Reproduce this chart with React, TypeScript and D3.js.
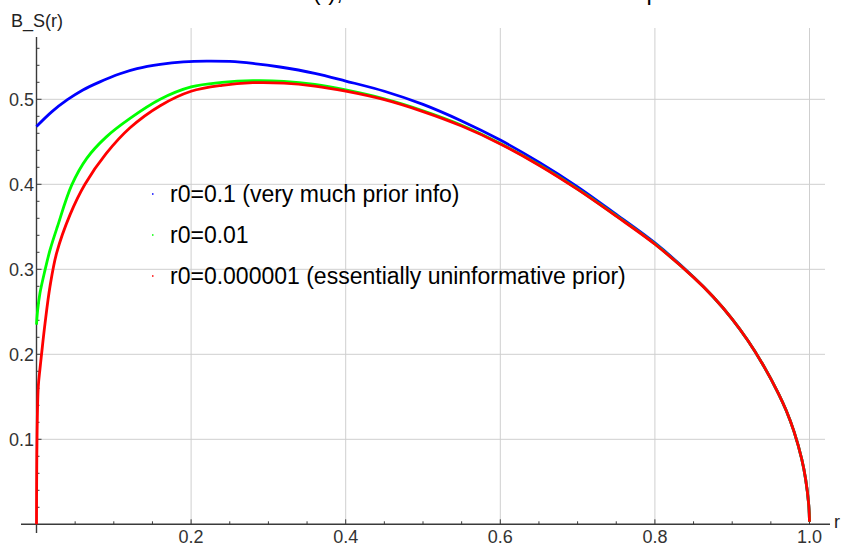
import React from "react";
import * as d3 from "d3";

// ---- data ----
const blueR = [0, 0.02, 0.04, 0.06, 0.082, 0.108, 0.13, 0.16, 0.19, 0.22, 0.25, 0.28, 0.315, 0.36, 0.4, 0.45, 0.5, 0.55, 0.6, 0.65, 0.7, 0.75, 0.8, 0.85, 0.875, 0.9, 0.92, 0.94, 0.96, 0.97, 0.98, 0.99, 0.995, 0.999, 1.0];
const blueV = [0.468, 0.4855, 0.4995, 0.511, 0.5205, 0.53, 0.536, 0.541, 0.544, 0.545, 0.5445, 0.5422, 0.538, 0.5305, 0.5215, 0.5095, 0.494, 0.4745, 0.452, 0.426, 0.397, 0.3645, 0.331, 0.291, 0.268, 0.2415, 0.2165, 0.1875, 0.1535, 0.1335, 0.109, 0.0765, 0.053, 0.023, 0.003];

const greenR = [0, 0.0015, 0.0045, 0.011, 0.0175, 0.027, 0.0455, 0.065, 0.09, 0.121, 0.16, 0.2, 0.24, 0.28, 0.32, 0.36, 0.4, 0.45, 0.5, 0.55, 0.6, 0.65, 0.7, 0.75, 0.8, 0.85, 0.875, 0.9, 0.92, 0.94, 0.96, 0.97, 0.98, 0.99, 0.995, 0.999, 1.0];
const greenV = [0.235, 0.252, 0.272, 0.299, 0.3227, 0.35, 0.399, 0.4305, 0.4555, 0.4775, 0.5, 0.5145, 0.5198, 0.522, 0.5212, 0.5175, 0.511, 0.5005, 0.4865, 0.4695, 0.448, 0.423, 0.3945, 0.363, 0.3298, 0.2906, 0.268, 0.2415, 0.2165, 0.1875, 0.1535, 0.1335, 0.109, 0.0765, 0.053, 0.023, 0.003];

const redR = [0, 0.0002, 0.0008, 0.0023, 0.0045, 0.0067, 0.011, 0.0175, 0.026, 0.0433, 0.0627, 0.09, 0.121, 0.16, 0.2, 0.24, 0.28, 0.32, 0.36, 0.4, 0.45, 0.5, 0.55, 0.6, 0.65, 0.7, 0.75, 0.8, 0.85, 0.875, 0.9, 0.92, 0.94, 0.96, 0.97, 0.98, 0.99, 0.995, 0.999, 1.0];
const redV = [0.0, 0.05, 0.11, 0.162, 0.183, 0.2015, 0.236, 0.28, 0.319, 0.364, 0.4, 0.436, 0.4665, 0.4925, 0.5095, 0.5165, 0.5195, 0.519, 0.5155, 0.5095, 0.4995, 0.4855, 0.4685, 0.4475, 0.4225, 0.394, 0.3625, 0.3295, 0.2905, 0.268, 0.2415, 0.2165, 0.1875, 0.1535, 0.1335, 0.109, 0.0765, 0.053, 0.023, 0.003];

const seriesLabels = [
  "r0=0.1 (very much prior info)",
  "r0=0.01",
  "r0=0.000001 (essentially uninformative prior)",
];
const seriesColors = ["#0000ff", "#00ff00", "#ff0000"];

const xTickLabels = ["0.2", "0.4", "0.6", "0.8", "1.0"];
const yTickLabels = ["0.1", "0.2", "0.3", "0.4", "0.5"];
const titleText = "B(r), for three different choices of prior";
const yAxisTitle = "B_S(r)";
const xAxisTitle = "r";

const FONT = "Arial, 'Liberation Sans', sans-serif";

export default function App() {
  const x = d3.scaleLinear().domain([0, 1]).range([36.5, 809.5]);
  const y = d3.scaleLinear().domain([0, 0.5]).range([524.3, 99.3]);

  const xMajor = xTickLabels.map(Number);
  const yMajor = yTickLabels.map(Number);
  const xMinor = d3.range(1, 21).map((i) => i * 0.05).filter((v) => !xMajor.some((m) => Math.abs(m - v) < 1e-9));
  const yMinor = d3.range(1, 29).map((i) => i * 0.02).filter((v) => !yMajor.some((m) => Math.abs(m - v) < 1e-9));

  const line = d3
    .line<[number, number]>()
    .x((d) => x(d[0]))
    .y((d) => y(d[1]))
    .curve(d3.curveCatmullRom.alpha(0.5));

  const series = [
    { r: blueR, v: blueV },
    { r: greenR, v: greenV },
    { r: redR, v: redV },
  ];

  const xAxisY = y(0);
  const yAxisX = x(0);
  const legendY = [194, 235, 276];

  return (
    <div style={{ position: "absolute", left: 0, top: 0 }}>
      <svg width={842} height={547} style={{ display: "block", background: "#fff" }} fontFamily={FONT}>
        <rect x={0} y={0} width={842} height={547} fill="#fff" />
        {/* title (cut off at the top in the reference) */}
        <text x={297} y={0} fontSize={23.5} fill="#000">
          {titleText}
        </text>
        {/* gridlines */}
        <g stroke="#cfcfcf" strokeWidth={1}>
          {xMajor.map((t) => (
            <line key={"gx" + t} x1={x(t)} x2={x(t)} y1={28} y2={xAxisY} />
          ))}
          {yMajor.map((t) => (
            <line key={"gy" + t} x1={yAxisX} x2={825} y1={y(t)} y2={y(t)} />
          ))}
        </g>
        {/* axes */}
        <g stroke="#3a3a3a" strokeWidth={1.4}>
          <line x1={21} x2={830} y1={xAxisY} y2={xAxisY} />
          <line x1={yAxisX} x2={yAxisX} y1={37} y2={533} />
          {xMinor.map((t) => (
            <line key={"xm" + t} x1={x(t)} x2={x(t)} y1={xAxisY} y2={xAxisY - 3} strokeWidth={1} />
          ))}
          {xMajor.map((t) => (
            <line key={"xM" + t} x1={x(t)} x2={x(t)} y1={xAxisY} y2={xAxisY - 5} strokeWidth={1} />
          ))}
          {yMinor.map((t) => (
            <line key={"ym" + t} x1={yAxisX} x2={yAxisX + 3} y1={y(t)} y2={y(t)} strokeWidth={1} />
          ))}
          {yMajor.map((t) => (
            <line key={"yM" + t} x1={yAxisX} x2={yAxisX + 5} y1={y(t)} y2={y(t)} strokeWidth={1} />
          ))}
        </g>
        {/* tick labels */}
        <g fontSize={18} fill="#333">
          {xTickLabels.map((s) => (
            <text key={"xl" + s} x={x(Number(s))} y={543.3} textAnchor="middle">
              {s}
            </text>
          ))}
          {yTickLabels.map((s) => (
            <text key={"yl" + s} x={34} y={y(Number(s)) + 6.3} textAnchor="end">
              {s}
            </text>
          ))}
        </g>
        {/* axis titles */}
        <text x={11} y={27} fontSize={18} fill="#222">
          {yAxisTitle}
        </text>
        <text x={834} y={528} fontSize={18} fill="#222">
          {xAxisTitle}
        </text>
        {/* curves */}
        <g fill="none" strokeWidth={2.8} strokeLinejoin="round">
          {series.map((s, i) => (
            <path
              key={"s" + i}
              d={line(s.r.map((r, j) => [r, s.v[j]] as [number, number])) || ""}
              stroke={seriesColors[i]}
            />
          ))}
        </g>
        {/* legend */}
        <g fontSize={23} fill="#000">
          {seriesLabels.map((s, i) => (
            <g key={"lg" + i}>
              <rect x={152} y={legendY[i] - 0.75} width={1.5} height={1.5} fill={seriesColors[i]} />
              <text x={170} y={legendY[i] + 8}>
                {s}
              </text>
            </g>
          ))}
        </g>
      </svg>
    </div>
  );
}
